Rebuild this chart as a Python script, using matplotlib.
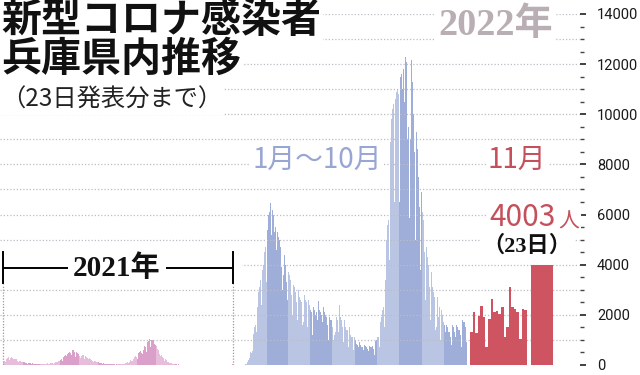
import matplotlib
matplotlib.use('Agg')
import matplotlib.pyplot as plt
from matplotlib.ticker import MultipleLocator, FixedLocator
import numpy as np

# ---------------- data (daily new cases, Hyogo) ----------------
month_days_2021 = [31, 28, 31, 30, 31, 30, 31, 31, 30, 31, 30, 31]
cases_2021 = [
    # Jan
    130, 150, 170, 110, 180, 230, 250, 280, 300, 290, 200, 260, 320, 310, 290, 270, 240, 160, 230, 250, 230, 220, 190, 170, 110, 180, 170, 150, 140, 130, 110,
    # Feb
    70, 120, 110, 100, 90, 80, 70, 50, 90, 80, 60, 70, 60, 50, 40, 70, 60, 50, 50, 45, 40, 30, 40, 50, 50, 45, 40, 35,
    # Mar
    30, 50, 50, 45, 50, 45, 40, 30, 50, 55, 50, 60, 55, 50, 40, 60, 60, 65, 70, 60, 55, 40, 80, 90, 100, 110, 120, 100, 80, 150, 160,
    # Apr
    180, 200, 220, 180, 150, 280, 330, 360, 380, 400, 350, 250, 420, 480, 500, 520, 530, 480, 380, 560, 580, 600, 550, 520, 480, 330, 500, 520, 490, 450,
    # May
    420, 350, 280, 300, 350, 420, 400, 380, 300, 220, 360, 350, 330, 300, 280, 240, 150, 260, 250, 230, 200, 190, 160, 100, 180, 170, 150, 140, 120, 100, 60,
    # Jun
    110, 100, 90, 80, 70, 60, 40, 70, 60, 55, 50, 45, 40, 25, 50, 45, 40, 35, 30, 28, 18, 35, 32, 30, 28, 25, 22, 15, 30, 30,
    # Jul
    30, 28, 25, 20, 15, 30, 35, 40, 40, 45, 40, 30, 60, 70, 80, 90, 100, 80, 60, 120, 150, 180, 150, 160, 170, 120, 250, 300, 320, 350, 330,
    # Aug
    300, 250, 420, 480, 520, 550, 560, 470, 400, 450, 600, 700, 750, 800, 700, 500, 800, 900, 950, 1000, 1050, 950, 700, 1000, 1050, 1000, 980, 950, 850, 550, 800,
    # Sep
    750, 700, 650, 600, 550, 450, 350, 400, 380, 350, 300, 270, 200, 150, 230, 200, 180, 150, 120, 100, 70, 90, 80, 70, 60, 50, 30, 40, 35, 30,
    # Oct
    25, 22, 20, 15, 10, 20, 18, 15, 12, 10, 8, 7, 14, 12, 10, 8, 7, 5, 4, 10, 8, 7, 6, 5, 4, 3, 6, 5, 5, 4, 3,
    # Nov
    2, 5, 4, 3, 4, 3, 2, 2, 4, 3, 3, 3, 2, 2, 1, 3, 3, 2, 3, 2, 1, 2, 3, 4, 3, 2, 2, 1, 3, 3,
    # Dec
    3, 2, 3, 2, 2, 1, 3, 3, 2, 2, 2, 1, 1, 3, 2, 3, 3, 2, 2, 1, 4, 5, 6, 7, 8, 7, 6, 10, 15, 20, 30,
]

month_days_2022 = [31, 28, 31, 30, 31, 30, 31, 31, 30, 31]   # Jan - Oct
cases_2022 = [
    # Jan
    30, 20, 30, 60, 120, 190, 290, 440, 500, 480, 560, 1000, 1250, 1500, 1800, 1600, 1300, 2300, 2700, 2900, 3100, 3400, 3100, 2400, 3800, 4000, 4200, 4500, 4700, 4200, 3300,
    # Feb
    5400, 6000, 6300, 6100, 6450, 5200, 4200, 6200, 6000, 5800, 5300, 5500, 4600, 3500, 5300, 5100, 5000, 4800, 4700, 3900, 3000, 4500, 3600, 4400, 4200, 4000, 3300, 2600,
    # Mar
    3900, 3700, 3600, 3400, 3300, 2800, 2000, 3400, 3200, 3100, 2900, 3000, 2500, 1800, 3000, 2800, 2700, 2600, 2500, 2200, 1600, 1700, 3000, 2800, 2600, 2500, 2200, 1500, 2600, 2400, 2300,
    # Apr
    2200, 2100, 1800, 1200, 2300, 2200, 2100, 2000, 2100, 1800, 1200, 2550, 2200, 2100, 2000, 2000, 1700, 1100, 2300, 2100, 2000, 1900, 1900, 1600, 1000, 2100, 1900, 1800, 1400, 1800,
    # May
    1500, 1000, 1100, 1200, 1300, 1900, 2200, 1800, 1300, 2400, 2100, 1900, 1800, 1700, 1500, 900, 1800, 1600, 1500, 1400, 1400, 1200, 700, 1500, 1300, 1200, 1100, 1100, 900, 600, 1100,
    # Jun
    1000, 900, 850, 800, 700, 450, 900, 800, 750, 700, 700, 600, 400, 800, 750, 700, 650, 650, 550, 350, 750, 700, 700, 700, 750, 650, 400, 900, 950, 1000,
    # Jul
    1100, 1200, 1100, 700, 1500, 1700, 1900, 2200, 2500, 2300, 1500, 3400, 4200, 5000, 5600, 6200, 5800, 4200, 8900, 9400, 9800, 10200, 10400, 9500, 6500, 10600, 10900, 10800, 11000, 10800, 9600,
    # Aug
    6500, 11500, 11600, 12200, 11000, 11800, 10500, 6000, 12300, 12100, 10500, 9000, 9500, 5860, 5800, 9000, 12160, 11300, 10800, 10000, 8500, 5000, 10000, 9300, 8600, 8000, 7500, 6300, 3800, 7300, 6900,
    # Sep
    6100, 5800, 5500, 4500, 2600, 5000, 4700, 4300, 4000, 3700, 3100, 1800, 3700, 3400, 3100, 2900, 2700, 2200, 1400, 1500, 3300, 2700, 1900, 2300, 1900, 1000, 2200, 2000, 1800, 1700,
    # Oct
    1600, 1300, 700, 1600, 1500, 1400, 1300, 1300, 1100, 600, 800, 1600, 1500, 1300, 1300, 1100, 600, 1600, 1500, 1400, 1400, 1400, 1200, 700, 1800, 1800, 1700, 1700, 1600, 1500, 900,
]

cases_nov_2022 = [1300, 2120, 1260, 1950, 2350, 1900, 730, 1850, 2650, 2100, 2150, 2050, 2300, 1100, 1500, 3100, 2300, 2250, 2100, 1050, 2250, 2200]
cases_nov23 = 4003

y_ticks = [0, 2000, 4000, 6000, 8000, 10000, 12000, 14000]

# ---------------- layout ----------------
W, H = 640, 375
Y0PX, YTPX = 365, 14          # pixel rows of 0 and 14000
fig = plt.figure(figsize=(W / 100, H / 100), dpi=100)
fig.patch.set_facecolor('white')
ax = fig.add_axes([0, (H - Y0PX) / H, 580 / W, (Y0PX - YTPX) / H])
ax.set_xlim(0, 580)
ax.set_ylim(0, 14000)
ax.set_facecolor('none')
for s in ax.spines.values():
    s.set_visible(False)

def v_of_px(py):
    return (Y0PX - py) / (Y0PX - YTPX) * 14000

# segments in layout units (pixels)
S21 = (3, 233)
S22 = (244.5, 466.7)
SNOV = (470, 526.7)
S23 = (531, 553.3)

def month_colors(month_days, c_light, c_dark):
    cols = []
    for i, n in enumerate(month_days):
        cols += [c_light if i % 2 == 0 else c_dark] * n
    return cols

# 2021
n21 = len(cases_2021)
step21 = (S21[1] - S21[0]) / n21
x21 = S21[0] + step21 * np.arange(n21)
ax.bar(x21, cases_2021, width=step21, align='edge', linewidth=0,
       color=month_colors(month_days_2021, '#e7bddb', '#dba0c9'), zorder=1)

# 2022 Jan-Oct
n22 = len(cases_2022)
step22 = (S22[1] - S22[0]) / n22
x22 = S22[0] + step22 * np.arange(n22)
ax.bar(x22, cases_2022, width=step22, align='edge', linewidth=0,
       color=month_colors(month_days_2022, '#bac5e4', '#9eaed8'), zorder=1)

# Nov 1-22
nn = len(cases_nov_2022)
stepn = (SNOV[1] - SNOV[0]) / nn
xn = SNOV[0] + stepn * np.arange(nn)
ax.bar(xn, cases_nov_2022, width=stepn, align='edge', linewidth=0,
       color='#cf5461', zorder=3)
# Nov 23
ax.bar([S23[0]], [cases_nov23], width=S23[1] - S23[0], align='edge', linewidth=0,
       color='#cf5461', zorder=3)

# grid lines (dotted)
for v in range(1000, 14001, 1000):
    ax.plot([0, 579], [v, v], color='#bdbdc6', lw=0.9, ls=(0, (1, 1.6)), zorder=2)

# right axis ticks
ax.yaxis.tick_right()
ax.yaxis.set_major_locator(FixedLocator(y_ticks))
ax.yaxis.set_minor_locator(MultipleLocator(500))
ax.tick_params(axis='y', which='major', length=4.2, width=1.3, color='#333333', pad=8,
               labelsize=10.5, labelcolor='#1a1a1a')
ax.tick_params(axis='y', which='minor', length=2.6, width=1.0, color='#444444')
ax.set_yticklabels([str(t) for t in y_ticks], family='Roboto')
ax.set_xticks([])

# 2021 bracket
def px2fx(px):
    return px / W

def px2fy(py):
    return 1 - py / H

yb = v_of_px(268)
ax.plot([S21[0], 68], [yb, yb], color='black', lw=1.4, zorder=5, solid_capstyle='butt')
ax.plot([166, S21[1]], [yb, yb], color='black', lw=1.4, zorder=5, solid_capstyle='butt')
# white strip behind bracket hiding grid line
ax.add_patch(plt.Rectangle((0, v_of_px(284)), 242, v_of_px(250) - v_of_px(284),
                           facecolor='white', edgecolor='none', zorder=4))
for xx in (S21[0], S21[1]):
    ax.plot([xx, xx], [v_of_px(252), v_of_px(283)], color='black', lw=1.4, zorder=5)
    ax.plot([xx, xx], [0, v_of_px(284)], color='#9a9a9a', lw=0.9, ls=(0, (1, 1.3)), zorder=5)

serif = ['Liberation Serif', 'Noto Sans CJK JP']
cjk = ['Noto Sans CJK JP', 'DejaVu Sans']
wb = dict(facecolor='white', edgecolor='none', pad=1.5)

fig.text(px2fx(117), px2fy(268), '2021年', ha='center', va='center', fontsize=21,
         fontweight='bold', family=serif, color='#111111', zorder=6)

# titles
fig.text(px2fx(1), px2fy(21), '新型コロナ感染者', ha='left', va='center', fontsize=28.8,
         fontweight='bold', family=cjk, color='#111111', bbox=wb, zorder=6)
fig.text(px2fx(1), px2fy(59), '兵庫県内推移', ha='left', va='center', fontsize=28.8,
         fontweight='bold', family=cjk, color='#111111', bbox=wb, zorder=6)
fig.text(px2fx(1), px2fy(100), '（23日発表分まで）', ha='left', va='center', fontsize=17.5,
         family=cjk, color='#222222', bbox=wb, zorder=6)
fig.text(px2fx(438), px2fy(25), '2022年', ha='left', va='center', fontsize=27.5,
         fontweight='bold', family=serif, color='#b9aeb3', bbox=wb, zorder=6)

fig.text(px2fx(317), px2fy(160), '1月〜10月', ha='center', va='center', fontsize=20,
         family=cjk, color='#98a6d4', bbox=wb, zorder=6)
fig.text(px2fx(517), px2fy(160), '11月', ha='center', va='center', fontsize=20,
         family=cjk, color='#c4505b', bbox=wb, zorder=6)
fig.text(px2fx(489), px2fy(218), '4003', ha='left', va='center', fontsize=21.5,
         family=cjk, color='#c4505b', bbox=wb, zorder=6)
fig.text(px2fx(558), px2fy(222), '人', ha='left', va='center', fontsize=15,
         family=cjk, color='#c4505b', bbox=wb, zorder=6)
fig.text(px2fx(527), px2fy(246), '（23日）', ha='center', va='center', fontsize=16,
         fontweight='bold', family=serif, color='#111111', bbox=wb, zorder=6)

fig.savefig('out.png', dpi=100, facecolor='white')
